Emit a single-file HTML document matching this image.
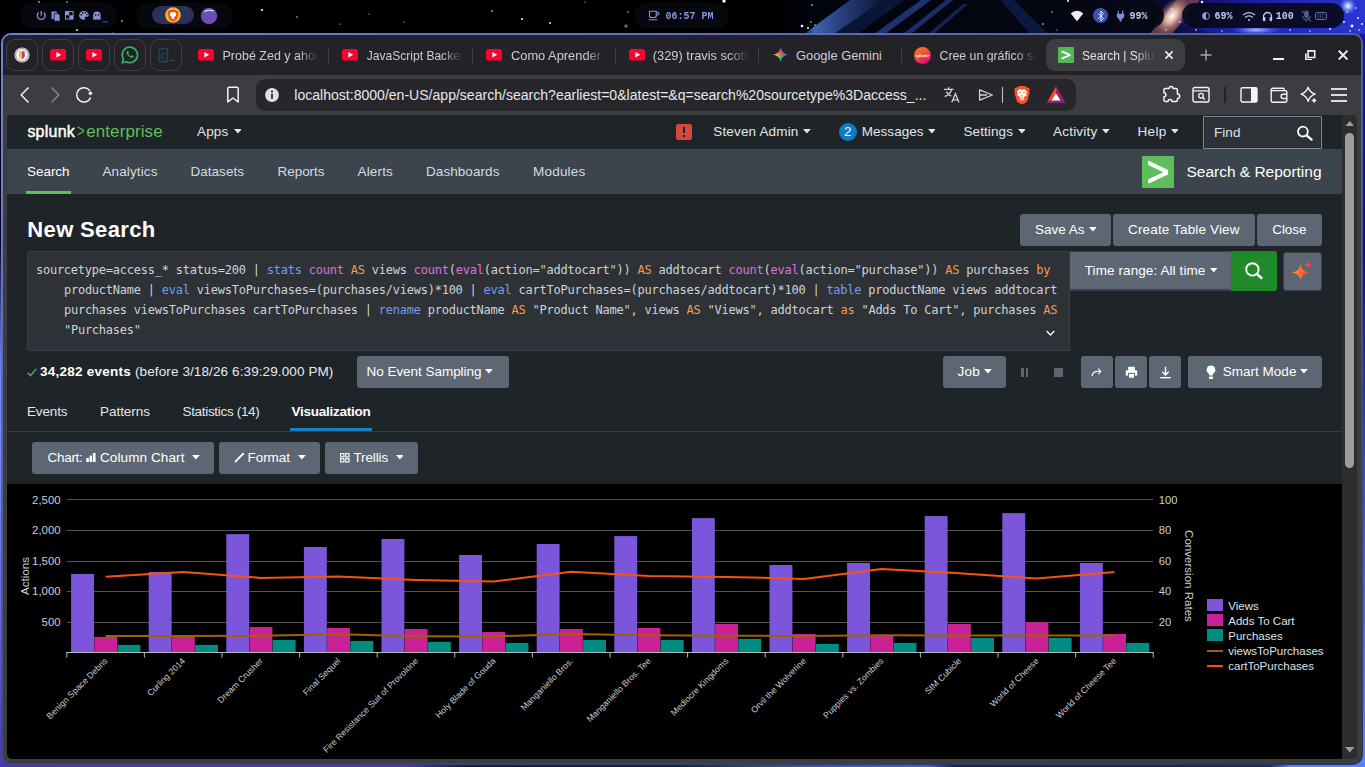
<!DOCTYPE html>
<html lang="en">
<head>
<meta charset="utf-8">
<title>Search | Splunk</title>
<style>
*{box-sizing:border-box;margin:0;padding:0}
html,body{width:1365px;height:767px;overflow:hidden;background:#000}
body{position:relative;font-family:"Liberation Sans",sans-serif;color:#fff}
.abs{position:absolute}
svg{display:block}
.t{position:absolute;white-space:pre;line-height:1}
/* ---------- desktop ---------- */
#desk{position:absolute;left:0;top:0;width:1365px;height:767px;overflow:hidden;
 background:
  linear-gradient(180deg,rgba(0,0,0,0) 0,rgba(0,0,0,0) 100%),
  #000}
.pill{position:absolute;top:3px;height:25px;border-radius:13px;background:#07070f}
.pill .t{font-family:"Liberation Mono",monospace;color:#8f9bd6;font-size:12px;font-weight:bold}
/* ---------- browser window ---------- */
#winb{position:absolute;left:1px;top:33px;width:1362px;height:732px;border-radius:10px;background:linear-gradient(90deg,rgba(8,12,40,0) 0,rgba(8,12,40,.32) 100%),linear-gradient(180deg,#6a84d8 0,#6880d4 23%,#5568a8 50%,#4a5890 77%,#3c4a78 100%)}
#win{position:absolute;left:3px;top:35px;width:1358px;height:728px;border-radius:8px;background:#3d3c41;overflow:hidden}
#tabbar{position:absolute;left:0;top:0;width:1358px;height:40px;background:#232227}
#toolbar{position:absolute;left:0;top:40px;width:1358px;height:40px;background:#3d3c41;border-radius:7px 7px 0 0}
.pin{position:absolute;top:4px;width:32px;height:32px;border:1px solid #3e3e44;border-radius:9px}
.tab{position:absolute;top:0;height:40px}
.tab .t{font-size:13px;color:#cdcdd2;top:15px}
.fade{overflow:hidden;-webkit-mask-image:linear-gradient(90deg,#000 78%,transparent 100%);mask-image:linear-gradient(90deg,#000 78%,transparent 100%)}
.fade2{overflow:hidden;-webkit-mask-image:linear-gradient(90deg,#000 70%,transparent 96%);mask-image:linear-gradient(90deg,#000 70%,transparent 96%)}
.tsep{position:absolute;top:13px;width:1px;height:15px;background:#414147}
#url{position:absolute;left:253px;top:44px;width:820px;height:32px;border-radius:9px;background:#27272b}
/* ---------- page ---------- */
#page{position:absolute;left:4px;top:80px;width:1350px;height:644px;background:#1f2428;border-radius:5px 5px 5px 5px;overflow:hidden}
</style>
</head>
<body>
<div id="desk">
<!--DESK-->
<svg class="abs" style="left:0;top:0" width="1365" height="767" viewBox="0 0 1365 767">
<defs>
<linearGradient id="dbg" x1="0" x2="1" y1="0" y2="0"><stop offset="0" stop-color="#000"/><stop offset=".56" stop-color="#000"/><stop offset=".6" stop-color="#02040f"/><stop offset=".76" stop-color="#03050f"/><stop offset=".84" stop-color="#07081f"/><stop offset=".875" stop-color="#101058"/><stop offset=".92" stop-color="#1a1ea4"/><stop offset="1" stop-color="#2a36d2"/></linearGradient>
<linearGradient id="band1" x1="0" x2="1" y1="0" y2="0"><stop offset="0" stop-color="#0a1430"/><stop offset=".12" stop-color="#4464b0"/><stop offset=".4" stop-color="#2a4688"/><stop offset="1" stop-color="#0a1430"/></linearGradient>
<linearGradient id="band2" x1="0" x2="1" y1="0" y2="0"><stop offset="0" stop-color="#14244f"/><stop offset=".5" stop-color="#233c7c"/><stop offset="1" stop-color="#060c20"/></linearGradient>
<radialGradient id="glow1" cx=".5" cy=".5" r=".5"><stop offset="0" stop-color="#fff"/><stop offset=".35" stop-color="#f3c9b4" stop-opacity=".85"/><stop offset="1" stop-color="#b06a60" stop-opacity="0"/></radialGradient>
<radialGradient id="glow2" cx=".5" cy=".5" r=".5"><stop offset="0" stop-color="#fff"/><stop offset=".3" stop-color="#9fc0ff" stop-opacity=".9"/><stop offset="1" stop-color="#3a5cff" stop-opacity="0"/></radialGradient>
<linearGradient id="botg" x1="0" x2="1" y1="0" y2="0"><stop offset="0" stop-color="#4b36b0"/><stop offset=".3" stop-color="#4a36ae"/><stop offset=".34" stop-color="#15204a"/><stop offset=".5" stop-color="#15224a"/><stop offset=".56" stop-color="#3a4a72"/><stop offset=".62" stop-color="#3a5ab8"/><stop offset=".68" stop-color="#4060c8"/><stop offset=".7" stop-color="#1a2448"/><stop offset=".93" stop-color="#1c2a55"/><stop offset=".945" stop-color="#5a82f4"/><stop offset="1" stop-color="#5a82f4"/></linearGradient>
<linearGradient id="leftg" x1="0" x2="0" y1="0" y2="1"><stop offset="0" stop-color="#000"/><stop offset=".28" stop-color="#04001a"/><stop offset=".45" stop-color="#6e82f0"/><stop offset=".55" stop-color="#7b90ff"/><stop offset=".8" stop-color="#6866e0"/><stop offset="1" stop-color="#4b36b0"/></linearGradient>
<linearGradient id="rightg" x1="0" x2="0" y1="0" y2="1"><stop offset="0" stop-color="#1a14a0"/><stop offset=".3" stop-color="#150e78"/><stop offset=".6" stop-color="#3450b8"/><stop offset="1" stop-color="#5a82f4"/></linearGradient>
</defs>
<rect width="1365" height="40" fill="url(#dbg)"/>
<rect x="0" y="40" width="1365" height="727" fill="url(#botg)"/>
<rect x="0" y="34" width="3" height="726" fill="url(#leftg)"/>
<rect x="1360" y="34" width="5" height="726" fill="url(#rightg)"/>
<!-- diagonal blue bands -->
<polygon points="804,34 834,34 884,0 850,0" fill="url(#band1)"/>
<polygon points="834,34 858,34 904,0 884,0" fill="#0d1a40" opacity=".8"/>
<polygon points="874,34 885,34 931,0 921,0" fill="#1d3370"/>
<polygon points="903,34 911,34 953,0 946,0" fill="#1a2e66"/>
<polygon points="928,34 934,34 968,4 963,4" fill="#14244f"/>
<polygon points="1000,0 1014,0 1048,34 1030,34" fill="#0b1840"/>
<!-- warm streak between pills -->
<polygon points="1150,34 1172,34 1200,0 1176,0" fill="#7c4a52" opacity=".75"/>
<ellipse cx="1172" cy="16" rx="13" ry="22" fill="url(#glow1)" transform="rotate(38 1172 16)"/>
<!-- blue-white glows on right -->
<ellipse cx="1256" cy="30" rx="26" ry="5" fill="url(#glow2)"/>
<ellipse cx="1348" cy="6" rx="9" ry="9" fill="url(#glow2)"/>
<ellipse cx="1270" cy="20" rx="90" ry="16" fill="#2a36d8" opacity=".35"/>
<!-- stars -->
<g fill="#fff">
<circle cx="39" cy="2" r=".8"/><circle cx="67" cy="2" r=".7"/><circle cx="77" cy="30" r=".9"/><circle cx="122" cy="21" r=".8"/><circle cx="113" cy="33" r=".6"/><circle cx="197" cy="27" r=".6"/>
<circle cx="262" cy="10" r="1.100"/><circle cx="297" cy="17" r=".7"/><circle cx="369" cy="14" r=".6"/><circle cx="340" cy="24" r=".6"/><circle cx="404" cy="22" r=".6"/><circle cx="492" cy="11" r=".8"/><circle cx="522" cy="19" r="1"/><circle cx="550" cy="23" r=".9"/><circle cx="585" cy="2" r=".6"/><circle cx="628" cy="12" r=".7"/><circle cx="626" cy="26" r="1.200" fill="none" stroke="#ddd" stroke-width=".6"/><circle cx="724" cy="1" r="1.700"/><circle cx="812" cy="5" r=".8"/><circle cx="802" cy="26" r="1.300"/><circle cx="808" cy="28" r="1"/><circle cx="811" cy="22" r=".7"/><circle cx="815" cy="25" r=".7"/>
<circle cx="1043" cy="24" r=".8"/><circle cx="1196" cy="30" r=".8"/><circle cx="1222" cy="31" r=".7"/><circle cx="1290" cy="30" r=".8"/><circle cx="1310" cy="31" r=".7"/><circle cx="1330" cy="29" r=".9"/><circle cx="1347" cy="12" r=".8"/><circle cx="1356" cy="8" r=".8"/><circle cx="1362" cy="24" r=".9"/><circle cx="1166" cy="30" r=".7"/><circle cx="1057" cy="30" r=".6"/><circle cx="1052" cy="12" r=".7"/><circle cx="1068" cy="1" r="1"/><circle cx="1172" cy="9" r=".7"/><circle cx="1180" cy="22" r=".8"/><circle cx="1202" cy="2" r="1.200"/><circle cx="1344" cy="22" r=".9"/><circle cx="1352" cy="26" r="1.400"/><circle cx="1358" cy="18" r="1"/><circle cx="1359" cy="30" r=".8"/><circle cx="1350" cy="31" r=".8"/>
</g>
</svg>
<!--/DESK-->
</div>

<!-- top status pills -->
<!--PILLS-->
<!-- pill 1 -->
<div class="pill" style="left:20px;width:97px">
<svg class="abs" style="left:0;top:0" width="97" height="25" viewBox="0 0 97 25" fill="none" stroke="#8793d6" stroke-width="1.300">
 <path d="M18.600 9.600a3.900 3.900 0 1 0 5.200 0M21.200 8v4.800"/>
 <path d="M31.500 8.500h4.500l1.500 1.500v6h-6z" fill="#8793d6" stroke="none"/><path d="M34 10.700h4.300l1.700 1.700v5.800h-6z" fill="#8793d6" stroke="#0a0a16" stroke-width=".8"/>
 <rect x="45.500" y="8.500" width="7.600" height="7.600" stroke-width="1"/><rect x="45.500" y="8.500" width="3.800" height="3.800" fill="#8793d6" stroke="none"/><rect x="49.300" y="12.300" width="3.800" height="3.800" fill="#8793d6" stroke="none"/>
 <path d="M63.800 8a4.700 4.400 0 1 0 0 8.800c1 0 1.400-.7 1.100-1.400-.4-1 .2-1.700 1.200-1.700h1.300c.8 0 1.300-.6 1.300-1.500 0-2.400-2.100-4.200-4.900-4.200z" fill="#8793d6" stroke="none"/><g fill="#0a0a16" stroke="none"><circle cx="61.300" cy="11.900" r=".8"/><circle cx="62.700" cy="9.900" r=".8"/><circle cx="65.200" cy="9.800" r=".8"/><circle cx="66.900" cy="11.500" r=".8"/></g>
 <path d="M73.200 17.200v-5a3.700 3.700 0 0 1 7.400 0v5l-1.300-1.100-1.200 1.100-1.200-1.100-1.200 1.100-1.200-1.100z" fill="#8793d6" stroke="none"/><g fill="#0a0a16" stroke="none"><circle cx="75.600" cy="11.900" r=".8"/><circle cx="78.400" cy="11.900" r=".8"/></g>
 <rect x="82.500" y="18.300" width="5.500" height="1.200" fill="#4a4e66" stroke="none"/>
</svg></div>
<!-- pill 2 -->
<div class="pill" style="left:136px;width:97px">
 <div class="abs" style="left:16px;top:3px;width:42px;height:18px;border-radius:9px;background:#2b3158"></div>
 <svg class="abs" style="left:29px;top:4px" width="16" height="16" viewBox="0 0 16 16"><circle cx="8" cy="8" r="7.800" fill="#f6b91d"/><path d="M11.400 3.900l-.9-1H5.500l-.9 1-.9-.2L2.600 4.900l.5 1.300-.3 1 1.400 4.500c.2.700.7 1.200 1.300 1.600L8 14.400l2.500-1.100c.6-.4 1.100-.9 1.300-1.600l1.400-4.500-.3-1 .5-1.300-1.100-1.200z" fill="#f0482a"/><path d="M8 5.200l1.800-.3 1.500 1.600-.5 1.200.4.900-2 1.500.4 1.100L8 12.200l-1.600-1 .4-1.100-2-1.500.4-.9-.5-1.200 1.500-1.600z" fill="#fff"/></svg>
 <svg class="abs" style="left:64px;top:4px" width="18" height="18" viewBox="0 0 18 18"><circle cx="9" cy="9" r="8.200" fill="#6d4eb6"/><path d="M4.500 4.300q4.500-2.400 9 -.4" stroke="#fff" stroke-width="1" fill="none" stroke-linecap="round"/></svg>
</div>
<!-- clock -->
<div class="pill" style="left:634px;width:95px">
 <svg class="abs" style="left:14px;top:7px" width="12" height="11" viewBox="0 0 12 11" fill="none" stroke="#8793d6" stroke-width="1.100"><path d="M1.500 1.200h6.800v4.300a2 2 0 0 1-2 2H3.500a2 2 0 0 1-2-2z"/><path d="M8.300 2.300h1.300a1.300 1.300 0 0 1 0 2.600H8.300M.8 9.800h8.400"/></svg>
 <span class="t" style="left:31.500px;top:9.2px;font-size:10px;color:#8b97da;transform:scaleY(1.17);transform-origin:0 7px">06:57 PM</span>
</div>
<!-- pill 4 -->
<div class="pill" style="left:1062px;width:102px;background:rgba(8,8,20,.93)">
 <svg class="abs" style="left:8px;top:7px" width="14" height="12" viewBox="0 0 14 12"><path d="M7 11.200L.8 3.600a8.400 8.400 0 0 1 12.400 0z" fill="#ececf2"/></svg>
 <div class="abs" style="left:30.500px;top:4.600px;width:15.600px;height:15.600px;border-radius:50%;background:#3853b4"></div>
 <svg class="abs" style="left:34.500px;top:6.500px" width="8" height="12" viewBox="0 0 8 12"><path d="M1.200 3.300l5.200 5.200L3.900 11V1l2.500 2.500-5.200 5.200" fill="none" stroke="#e8ebff" stroke-width="1"/></svg>
 <svg class="abs" style="left:54px;top:7px" width="9" height="12" viewBox="0 0 9 12"><path d="M2.300.8v3M6.700.8v3" stroke="#7f8cd8" stroke-width="1.300"/><path d="M.8 3.800h7.400v2.200a3.700 3.700 0 0 1-2.700 3.500v1.900h-2V9.500A3.700 3.700 0 0 1 .8 6z" fill="#7f8cd8"/></svg>
 <span class="t" style="left:67.500px;top:9.2px;font-size:10px;color:#c7cbef;transform:scaleY(1.17);transform-origin:0 7px">99%</span>
</div>
<!-- pill 5 -->
<div class="pill" style="left:1182px;width:162px;background:rgba(8,8,22,.9)">
 <svg class="abs" style="left:20px;top:9px" width="8" height="8" viewBox="0 0 8 8"><circle cx="4" cy="4" r="3.400" fill="none" stroke="#97a1e0" stroke-width=".9"/><path d="M4 .6a3.400 3.400 0 0 0 0 6.800z" fill="#97a1e0"/></svg>
 <span class="t" style="left:32.500px;top:9.2px;font-size:10px;color:#c7cbef;transform:scaleY(1.17);transform-origin:0 7px">69%</span>
 <svg class="abs" style="left:60px;top:8px" width="14" height="11" viewBox="0 0 14 11" fill="none" stroke="#c7cbef" stroke-width="1.200"><path d="M1 4.200a8.400 8.400 0 0 1 12 0M3.200 6.500a5.300 5.300 0 0 1 7.600 0"/><circle cx="7" cy="9" r="1" fill="#c7cbef" stroke="none"/></svg>
 <svg class="abs" style="left:80px;top:8px" width="11" height="11" viewBox="0 0 11 11" fill="none" stroke="#c7cbef" stroke-width="1.300"><path d="M1.500 9.500V5.500a4 4 0 0 1 8 0v4"/><path d="M1.500 6.500h1.600v3.300H1.500zM7.900 6.500h1.600v3.300H7.900z" fill="#c7cbef" stroke-width=".6"/></svg>
 <span class="t" style="left:93.800px;top:9.2px;font-size:10px;color:#c7cbef;transform:scaleY(1.17);transform-origin:0 7px">100</span>
 <svg class="abs" style="left:119px;top:7px" width="11" height="13" viewBox="0 0 11 13" fill="none" stroke="#565c8c" stroke-width="1.100"><rect x="3.800" y="1" width="3.400" height="6.500" rx="1.700" fill="#565c8c"/><path d="M1.800 6a3.700 3.700 0 0 0 7.400 0M5.500 9.800v2M1 1l9 10.500"/></svg>
 <svg class="abs" style="left:133px;top:8.500px" width="12" height="8" viewBox="0 0 12 8" fill="none" stroke="#6d74a8" stroke-width="1"><rect x=".6" y=".6" width="10.800" height="6.800" rx="1"/><path d="M2.500 2.800h7M2.500 5h7" stroke-dasharray="1.200 1"/></svg>
</div>
<!--/PILLS-->

<div id="winb"></div>
<div id="win">
 <div id="tabbar">
  <!-- pinned tabs -->
  <div class="pin" style="left:3px"><svg class="abs" style="left:7px;top:7px" width="16" height="16" viewBox="0 0 16 16"><circle cx="8" cy="8" r="7.6" fill="#e9e9ee"/><circle cx="8" cy="8" r="6.4" fill="none" stroke="#8a8a92" stroke-width=".9"/><circle cx="8" cy="8" r="5.2" fill="#fff"/><path d="M5.3 4.3h5.4v5.2c0 1.6-2.7 2.7-2.7 2.7s-2.7-1.1-2.7-2.7z" fill="#e23b2f"/><path d="M5.3 4.3H8v7.9s-2.7-1.1-2.7-2.7z" fill="#f2c230"/><rect x="8" y="6.6" width="2.4" height="2.6" fill="#2c6fd1"/></svg></div>
  <div class="pin" style="left:39px"><svg class="abs" style="left:7px;top:9px" width="16.400" height="11.600" viewBox="0 0 17 12"><rect width="17" height="12" rx="3.2" fill="#ff0033"/><path d="M6.6 3.2v5.6l5-2.8z" fill="#fff"/></svg></div>
  <div class="pin" style="left:75px"><svg class="abs" style="left:7px;top:9px" width="16.400" height="11.600" viewBox="0 0 17 12"><rect width="17" height="12" rx="3.2" fill="#ff0033"/><path d="M6.6 3.2v5.6l5-2.8z" fill="#fff"/></svg></div>
  <div class="pin" style="left:111px"><svg class="abs" style="left:6px;top:6px" width="18" height="18" viewBox="0 0 18 18"><path d="M9 1.2a7.7 7.7 0 0 0-6.6 11.7L1.3 16.8l4-1.05A7.7 7.7 0 1 0 9 1.2z" fill="none" stroke="#29b765" stroke-width="1.7" stroke-linejoin="round"/><path d="M6.5 5.2c-.3 0-.9.5-.9 1.6 0 1 .8 2.2 1.9 3.2 1.2 1.1 2.6 1.8 3.5 1.8.9 0 1.6-.7 1.7-1.2.1-.4 0-.6-.2-.7l-1.4-.7c-.2-.1-.4 0-.6.2l-.5.6c-.1.2-.3.2-.6.1-.6-.3-1.7-1.2-2.100-2 -.1-.2 0-.4.1-.5l.4-.5c.1-.2.1-.3 0-.5l-.6-1.300c-.1-.2-.3-.200-.7-.200z" fill="#29b765"/></svg></div>
  <div class="pin" style="left:147px"><svg class="abs" style="left:7px;top:7px" width="18" height="18" viewBox="0 0 18 18"><rect x="1" y="1.500" width="8.500" height="13" rx="1.300" fill="none" stroke="#1e4b62" stroke-width="1.300"/><text x="2.300" y="12" font-family="Liberation Mono, monospace" font-size="10" fill="#1e526a">c</text><rect x="11.500" y="12.800" width="4.500" height="1.400" fill="#1e526a"/></svg></div>
  <!-- regular tabs -->
  <div class="tab" style="left:195px;width:130px"><svg class="abs" style="left:0;top:14px" width="16.400" height="11.600" viewBox="0 0 17 12"><rect width="17" height="12" rx="3.200" fill="#ff0033"/><path d="M6.600 3.200v5.600l5-2.800z" fill="#fff"/></svg><span class="t fade" style="left:24.500px;font-size:12.500px;width:96px">Probé Zed y ahora</span></div>
  <div class="tsep" style="left:325px"></div>
  <div class="tab" style="left:338.800px;width:130px"><svg class="abs" style="left:0;top:14px" width="16.400" height="11.600" viewBox="0 0 17 12"><rect width="17" height="12" rx="3.200" fill="#ff0033"/><path d="M6.600 3.200v5.600l5-2.800z" fill="#fff"/></svg><span class="t fade" style="left:25px;font-size:12.050px;width:96px">JavaScript Backend</span></div>
  <div class="tsep" style="left:469px"></div>
  <div class="tab" style="left:483px;width:130px"><svg class="abs" style="left:0;top:14px" width="16.400" height="11.600" viewBox="0 0 17 12"><rect width="17" height="12" rx="3.200" fill="#ff0033"/><path d="M6.600 3.200v5.600l5-2.800z" fill="#fff"/></svg><span class="t fade" style="left:25px;font-size:12.850px;width:96px">Como Aprender P</span></div>
  <div class="tsep" style="left:612px"></div>
  <div class="tab" style="left:625.800px;width:130px"><svg class="abs" style="left:0;top:14px" width="16.400" height="11.600" viewBox="0 0 17 12"><rect width="17" height="12" rx="3.200" fill="#ff0033"/><path d="M6.600 3.200v5.600l5-2.800z" fill="#fff"/></svg><span class="t fade" style="left:24px;font-size:12.850px;width:96px">(329) travis scott -</span></div>
  <div class="tsep" style="left:755px"></div>
  <div class="tab" style="left:769px;width:130px"><svg class="abs" style="left:0.600px;top:12.200px" width="15.400" height="15.400" viewBox="0 0 18 18"><defs><radialGradient id="gR" cx=".5" cy="0" r=".62"><stop offset="0" stop-color="#f0434f"/><stop offset=".55" stop-color="#f0434f" stop-opacity=".85"/><stop offset="1" stop-color="#f0434f" stop-opacity="0"/></radialGradient><radialGradient id="gY" cx="0" cy=".5" r=".62"><stop offset="0" stop-color="#fbbc1e"/><stop offset=".55" stop-color="#fbbc1e" stop-opacity=".9"/><stop offset="1" stop-color="#fbbc1e" stop-opacity="0"/></radialGradient><radialGradient id="gG" cx=".5" cy="1" r=".62"><stop offset="0" stop-color="#12b75c"/><stop offset=".55" stop-color="#12b75c" stop-opacity=".85"/><stop offset="1" stop-color="#12b75c" stop-opacity="0"/></radialGradient></defs><path d="M9 .4c.6 4.900 3.700 8 8.600 8.600-4.900.6-8 3.700-8.600 8.600-.6-4.900-3.700-8-8.600-8.600 4.900-.6 8-3.700 8.600-8.600z" fill="#2f84ff"/><path d="M9 .4c.6 4.900 3.700 8 8.600 8.600-4.900.6-8 3.700-8.600 8.600-.6-4.900-3.700-8-8.600-8.600 4.900-.6 8-3.700 8.600-8.600z" fill="url(#gG)"/><path d="M9 .4c.6 4.900 3.700 8 8.600 8.600-4.900.6-8 3.700-8.600 8.600-.6-4.900-3.700-8-8.600-8.600 4.900-.6 8-3.700 8.600-8.600z" fill="url(#gY)"/><path d="M9 .4c.6 4.900 3.700 8 8.600 8.600-4.900.6-8 3.700-8.600 8.600-.6-4.900-3.700-8-8.600-8.600 4.900-.6 8-3.700 8.600-8.600z" fill="url(#gR)"/></svg><span class="t" style="left:24px;font-size:12.900px">Google Gemini</span></div>
  <div class="tsep" style="left:898px"></div>
  <div class="tab" style="left:911px;width:130px"><svg class="abs" style="left:0;top:12px" width="17" height="17" viewBox="0 0 17 17"><defs><linearGradient id="spl" x1=".25" y1="0" x2=".75" y2="1"><stop offset="0" stop-color="#f7761f"/><stop offset=".45" stop-color="#f0503a"/><stop offset="1" stop-color="#e3007f"/></linearGradient></defs><circle cx="8.500" cy="8.500" r="8.500" fill="url(#spl)"/><text x="8.500" y="10" font-size="3.600" font-weight="bold" fill="#fff" text-anchor="middle" font-family="Liberation Sans, sans-serif">splunk&gt;</text></svg><span class="t fade" style="left:25.500px;font-size:12.300px;width:96px">Cree un gráfico so</span></div>
  <!-- active tab -->
  <div class="abs" style="left:1043px;top:4px;width:139px;height:32px;border-radius:9px;background:#3d3c41"></div>
  <div class="abs" style="left:1055px;top:12px;width:16px;height:16px;background:#53b757;border-radius:1px"><svg class="abs" style="left:0;top:0" width="16" height="16" viewBox="0 0 16 16"><path d="M3.600 3.300l9 3.900v1.600l-9 3.900v-2.100l6.300-2.600-6.300-2.600z" fill="#fff"/></svg></div>
  <span class="t fade2" style="left:1079px;top:15px;font-size:12px;width:76px;color:#e2e2e6">Search | Splunk</span>
  <svg class="abs" style="left:1160px;top:14px" width="12" height="12" viewBox="0 0 12 12"><path d="M2.400 2.400l7.200 7.200M9.600 2.400l-7.200 7.200" stroke="#ececf0" stroke-width="1.700"/></svg>
  <svg class="abs" style="left:1196px;top:13px" width="14" height="14" viewBox="0 0 14 14"><path d="M7 1.500v11M1.500 7h11" stroke="#a6a6ac" stroke-width="1.400"/></svg>
  <!-- window controls -->
  <div class="abs" style="left:1270px;top:23px;width:11px;height:2px;background:#f4f4f6"></div>
  <svg class="abs" style="left:1302px;top:14.600px" width="10.600" height="10.600" viewBox="0 0 12 12"><path d="M3.500 1h7.500v7.500h-7.500z" fill="none" stroke="#f4f4f6" stroke-width="1.800"/><path d="M1 4v7h7" fill="none" stroke="#f4f4f6" stroke-width="1.800"/></svg>
  <svg class="abs" style="left:1335.300px;top:15px" width="10.200" height="10.200" viewBox="0 0 11 11"><path d="M.8.8l9.400 9.400M10.200.8l-9.400 9.400" stroke="#f4f4f6" stroke-width="2"/></svg>
 </div>
 <div id="toolbar">
  <svg class="abs" style="left:16px;top:11px" width="12" height="18" viewBox="0 0 12 18"><path d="M9.500 1.500L2.200 9l7.300 7.500" fill="none" stroke="#f4f4f6" stroke-width="1.500"/></svg>
  <svg class="abs" style="left:46px;top:11px" width="12" height="18" viewBox="0 0 12 18"><path d="M2.500 1.500L9.800 9l-7.300 7.500" fill="none" stroke="#85858c" stroke-width="1.500"/></svg>
  <svg class="abs" style="left:72px;top:11px" width="18" height="18" viewBox="0 0 18 18"><path d="M15.600 11.600A7.200 7.200 0 1 1 14.900 4.800" fill="none" stroke="#f4f4f6" stroke-width="1.500"/><circle cx="15.400" cy="7.200" r="1.800" fill="#f4f4f6"/></svg>
  <svg class="abs" style="left:223px;top:11px" width="14" height="18" viewBox="0 0 14 18"><path d="M1.800 2.800a1.500 1.500 0 0 1 1.500-1.500h7.400a1.500 1.500 0 0 1 1.500 1.500v13.200l-5.200-4-5.200 4z" fill="none" stroke="#f4f4f6" stroke-width="1.500" stroke-linejoin="round"/></svg>
  <!-- right icons -->
  <svg class="abs" style="left:1157px;top:9px" width="22" height="22" viewBox="1160 84 22 22"><path d="M1163.900 90Q1163.900 88.500 1165.400 88.500H1169.200a1.900 1.900 0 1 1 3.800 0H1175.900Q1177.400 88.500 1177.400 90V93.900a2.300 2.300 0 1 1 0 4.600V100.100Q1177.400 101.600 1175.900 101.600H1172a2 2 0 1 0-4 0H1165.400Q1163.900 101.600 1163.900 100.100V96.800a2 2 0 1 0 0-4Z" fill="none" stroke="#f4f4f6" stroke-width="1.500" stroke-linejoin="round"/></svg>
  <svg class="abs" style="left:1189px;top:11px" width="18" height="18" viewBox="0 0 18 18"><rect x="1" y="1.500" width="16" height="14.500" rx="1.800" fill="none" stroke="#f4f4f6" stroke-width="1.400"/><path d="M1 4.800h16" stroke="#f4f4f6" stroke-width="1.300"/><circle cx="9" cy="9.700" r="2.300" fill="none" stroke="#f4f4f6" stroke-width="1.300"/><path d="M10.700 11.400l2 2" stroke="#f4f4f6" stroke-width="1.400"/></svg>
  <div class="abs" style="left:1221px;top:12px;width:2px;height:16px;background:#232327"></div>
  <svg class="abs" style="left:1237px;top:11px" width="18" height="18" viewBox="0 0 18 18"><rect x="1" y="1.700" width="16" height="14.300" rx="1.500" fill="none" stroke="#f4f4f6" stroke-width="1.400"/><rect x="11" y="1.700" width="6" height="14.300" fill="#f4f4f6"/></svg>
  <svg class="abs" style="left:1267px;top:11px" width="18" height="18" viewBox="0 0 18 18"><path d="M1.200 3.800v10.600a1.800 1.800 0 0 0 1.800 1.800h12.200a1.600 1.600 0 0 0 1.600-1.600V6.200a1.600 1.600 0 0 0-1.600-1.600H1.200" fill="none" stroke="#f4f4f6" stroke-width="1.400" stroke-linejoin="round"/><path d="M1.200 4.200a2 2 0 0 1 2-2h9.600a1.600 1.600 0 0 1 1.600 1.600v.8" fill="none" stroke="#f4f4f6" stroke-width="1.400"/><path d="M16.800 8.300h-3.600a2.100 2.100 0 0 0 0 4.200h3.600" fill="none" stroke="#f4f4f6" stroke-width="1.400"/></svg>
  <svg class="abs" style="left:1296px;top:10px" width="20" height="20" viewBox="0 0 20 20"><path d="M9.1 2.20Q10.80 7.50 16.10 9.2Q10.80 10.90 9.1 16.20Q7.40 10.90 2.10 9.2Q7.40 7.50 9.1 2.20Z" fill="none" stroke="#f4f4f6" stroke-width="1.400" stroke-linejoin="round"/><path d="M15.1 12.50Q15.60 14.90 18.00 15.4Q15.60 15.90 15.1 18.30Q14.60 15.90 12.20 15.4Q14.60 14.90 15.1 12.50Z" fill="#f4f4f6" stroke="#3d3c41" stroke-width=".8" paint-order="stroke"/></svg>
  <div class="abs" style="left:1328px;top:13.300px;width:16px;height:2px;background:#dcdce0"></div>
  <div class="abs" style="left:1328px;top:19.200px;width:16px;height:2px;background:#dcdce0"></div>
  <div class="abs" style="left:1328px;top:25.400px;width:16px;height:2px;background:#dcdce0"></div>
 </div>
 <div id="url">
  <svg class="abs" style="left:8px;top:8px" width="16" height="16" viewBox="0 0 16 16"><circle cx="8" cy="8" r="6.900" fill="#e0e0e4"/><rect x="7.100" y="6.800" width="1.800" height="5" fill="#27272b"/><circle cx="8" cy="4.600" r="1.100" fill="#27272b"/></svg>
  <span class="t" style="left:38.300px;top:8.500px;font-size:14.050px;color:#e8e8ec">localhost:8000/en-US/app/search/search?earliest=0&amp;latest=&amp;q=search%20sourcetype%3Daccess_...</span>
  <svg class="abs" style="left:687px;top:7px" width="18" height="18" viewBox="0 0 18 18"><g fill="none" stroke="#d4d4d8" stroke-width="1.300"><path d="M1 3.300h9.500M5.700 1.300v2M8.700 3.300c-.8 3.200-3.300 5.800-7 7.300M3.300 5.600c1.100 2 2.700 3.500 5 4.600"/><path d="M8.800 16.500l3.600-8.700 3.600 8.700M10 13.800h4.800"/></g></svg>
  <svg class="abs" style="left:721px;top:8px" width="18" height="16" viewBox="0 0 18 16"><path d="M2.600 2.800v10.300L15.400 8z" fill="none" stroke="#d4d4d8" stroke-width="1.300" stroke-linejoin="round"/><path d="M2.600 8h7.400" stroke="#d4d4d8" stroke-width="1.300"/></svg>
  <div class="abs" style="left:746px;top:8px;width:1px;height:16px;background:#c4c4c8"></div>
  <svg class="abs" style="left:757px;top:6px" width="18" height="20" viewBox="0 0 18 20"><path d="M13.600 2.600l-1.500-1.700H5.900L4.400 2.600l-1.500-.4L1.200 4l.7 2-.5 1.600 2.200 7.800c.3 1 1 1.800 1.900 2.400L9 19.400l3.500-1.600c.9-.6 1.600-1.400 1.900-2.400l2.200-7.800L16.100 6l.7-2-1.700-1.800z" fill="#fb542b"/><path d="M9 4.700l2.700-.4 2.300 2.400-.8 1.800.6 1.400-3 2.300.6 1.700L9 15.400l-2.400-1.500.6-1.700-3-2.300.6-1.400L4 6.700l2.300-2.400z" fill="#fff"/><path d="M6.200 7.300l1.700.5M11.800 7.300l-1.700.5M9 9.400v2.400M7.600 12.900l1.400.9 1.400-.9" stroke="#fb542b" stroke-width=".9" fill="none"/></svg>
  <svg class="abs" style="left:790px;top:7px" width="20" height="18" viewBox="0 0 20 18"><path d="M10 .6L.8 16.800h18.400z" fill="#ff4724"/><path d="M10 .6l9.200 16.200H10z" fill="#9e1f63"/><path d="M.8 16.800h18.400l-2-2.400H2.800z" fill="#662d91"/><path d="M10 7.200l4.500 7.400h-9z" fill="#fff"/></svg>
 </div>
 <div id="page">
<!--PAGE-->
<div class="abs" style="left:0.00px;top:0.00px;width:1335.00px;height:34.00px;background:#1f2428;"></div>
<span class="t" style="left:20.40px;top:9px;font-size:16px;color:#ffffff;-webkit-text-stroke:0.45px #fff;letter-spacing:0.225px;">splunk</span>
<span class="t" style="left:69.90px;top:7px;font-size:18px;color:#5cc05c;transform:scaleX(0.74);transform-origin:0 0;">&gt;</span>
<span class="t" style="left:79.20px;top:8px;font-size:17px;color:#5cc05c;letter-spacing:0.099px;">enterprise</span>
<span class="t" style="left:190.00px;top:10px;font-size:13.5px;color:#e1e6eb;letter-spacing:0.180px;">Apps</span>
<svg class="abs" style="left:226.60px;top:14.00px" width="7.8" height="4.5" viewBox="0 0 7.8 4.5"><path d="M0 0h7.8l-3.9 4.5z" fill="#e1e6eb"/></svg>
<div class="abs" style="left:668.50px;top:9.00px;width:16.00px;height:16.00px;background:#d9483f;border-radius:2.5px"></div>
<div class="abs" style="left:675.60px;top:12.20px;width:2.00px;height:6.20px;background:#1f2428;"></div>
<div class="abs" style="left:675.60px;top:19.60px;width:2.00px;height:2.00px;background:#1f2428;"></div>
<span class="t" style="left:706.30px;top:10px;font-size:13.5px;color:#e1e6eb;letter-spacing:0.157px;">Steven Admin</span>
<svg class="abs" style="left:796.40px;top:14.00px" width="7.8" height="4.5" viewBox="0 0 7.8 4.5"><path d="M0 0h7.8l-3.9 4.5z" fill="#e1e6eb"/></svg>
<div class="abs" style="left:831.6px;top:7.799999999999997px;width:18.2px;height:18.2px;border-radius:50%;background:#0d7cc1"></div>
<span class="t" style="left:836.90px;top:10px;font-size:13.5px;color:#ffffff;">2</span>
<span class="t" style="left:854.80px;top:10px;font-size:13.5px;color:#e1e6eb;letter-spacing:0.021px;">Messages</span>
<svg class="abs" style="left:920.60px;top:14.00px" width="7.8" height="4.5" viewBox="0 0 7.8 4.5"><path d="M0 0h7.8l-3.9 4.5z" fill="#e1e6eb"/></svg>
<span class="t" style="left:956.50px;top:10px;font-size:13.5px;color:#e1e6eb;letter-spacing:0.090px;">Settings</span>
<svg class="abs" style="left:1010.60px;top:14.00px" width="7.8" height="4.5" viewBox="0 0 7.8 4.5"><path d="M0 0h7.8l-3.9 4.5z" fill="#e1e6eb"/></svg>
<span class="t" style="left:1046.00px;top:10px;font-size:13.5px;color:#e1e6eb;letter-spacing:0.217px;">Activity</span>
<svg class="abs" style="left:1095.10px;top:14.00px" width="7.8" height="4.5" viewBox="0 0 7.8 4.5"><path d="M0 0h7.8l-3.9 4.5z" fill="#e1e6eb"/></svg>
<span class="t" style="left:1130.50px;top:10px;font-size:13.5px;color:#e1e6eb;letter-spacing:0.309px;">Help</span>
<svg class="abs" style="left:1163.60px;top:14.00px" width="7.8" height="4.5" viewBox="0 0 7.8 4.5"><path d="M0 0h7.8l-3.9 4.5z" fill="#e1e6eb"/></svg>
<div class="abs" style="left:1195.50px;top:1.30px;width:119.50px;height:33.00px;background:#2e3236;border:1px solid #7f8c99;border-radius:1px;box-shadow:inset 0 0 0 1px #24292d"></div>
<span class="t" style="left:1207.00px;top:11px;font-size:13.5px;color:#dfe4e9;letter-spacing:0.059px;">Find</span>
<div class="abs" style="left:1289.00px;top:9.00px"><svg width="18" height="18" viewBox="0 0 18 18"><circle cx="6.900" cy="7.600" r="4.900" fill="none" stroke="#fff" stroke-width="1.800"/><path d="M10.600 11.300l5 4.300" stroke="#fff" stroke-width="2.300" stroke-linecap="round"/></svg></div>
<div class="abs" style="left:0.00px;top:34.00px;width:1335.00px;height:45.00px;background:#3c444d;"></div>
<span class="t" style="left:20.00px;top:50px;font-size:13.5px;color:#ffffff;letter-spacing:-0.047px;">Search</span>
<span class="t" style="left:95.50px;top:50px;font-size:13.5px;color:#d5dbe1;letter-spacing:0.108px;">Analytics</span>
<span class="t" style="left:183.50px;top:50px;font-size:13.5px;color:#d5dbe1;letter-spacing:0.027px;">Datasets</span>
<span class="t" style="left:270.50px;top:50px;font-size:13.5px;color:#d5dbe1;letter-spacing:-0.040px;">Reports</span>
<span class="t" style="left:350.50px;top:50px;font-size:13.5px;color:#d5dbe1;letter-spacing:0.164px;">Alerts</span>
<span class="t" style="left:419.00px;top:50px;font-size:13.5px;color:#d5dbe1;letter-spacing:0.070px;">Dashboards</span>
<span class="t" style="left:526.00px;top:50px;font-size:13.5px;color:#d5dbe1;letter-spacing:0.210px;">Modules</span>
<div class="abs" style="left:18.80px;top:75.50px;width:45.20px;height:3.50px;background:#5cc05c;"></div>
<div class="abs" style="left:1134.80px;top:40.80px;width:32.40px;height:32.20px;background:#5cbf5c;"></div>
<div class="abs" style="left:1134.80px;top:40.80px"><svg width="33" height="33" viewBox="0 0 33 33"><path d="M6.260 4.480L26.070 13.970V18.400L6.260 27.800V23.360L21.270 16.160L6.260 9.020Z" fill="#fff"/></svg></div>
<span class="t" style="left:1179.50px;top:49px;font-size:15.5px;color:#ffffff;letter-spacing:-0.016px;">Search &amp; Reporting</span>
<span class="t" style="left:20.30px;top:104px;font-size:22px;color:#ffffff;font-weight:bold;letter-spacing:0.357px;">New Search</span>
<div class="abs" style="left:1013.00px;top:99.00px;width:91.00px;height:32.00px;background:#5c6773;border-radius:3px"></div>
<span class="t" style="left:1028.00px;top:108px;font-size:13.5px;color:#fff;letter-spacing:-0.004px;">Save As</span>
<svg class="abs" style="left:1081.60px;top:112.10px" width="7.8" height="4.5" viewBox="0 0 7.8 4.5"><path d="M0 0h7.8l-3.9 4.5z" fill="#fff"/></svg>
<div class="abs" style="left:1106.30px;top:99.00px;width:141.70px;height:32.00px;background:#5c6773;border-radius:3px"></div>
<span class="t" style="left:1121.00px;top:108px;font-size:13.5px;color:#fff;letter-spacing:0.154px;">Create Table View</span>
<div class="abs" style="left:1250.30px;top:99.00px;width:64.70px;height:32.00px;background:#5c6773;border-radius:3px"></div>
<span class="t" style="left:1265.30px;top:108px;font-size:13.5px;color:#fff;letter-spacing:-0.103px;">Close</span>
<div class="abs" style="left:20.00px;top:136.00px;width:1043.00px;height:100.00px;background:#2e3236;border:1px solid #34404a;border-radius:3px 0 0 3px"></div>
<span class="t" style="left:28.90px;top:149px;font-size:12px;color:#cdd3d9;letter-spacing:-0.2296px;font-family:'DejaVu Sans Mono','Liberation Mono',monospace;"><span style="color:#cdd3d9">sourcetype=access_* status=200 | </span><span style="color:#6e9df2">stats</span><span style="color:#cdd3d9"> </span><span style="color:#d873dc">count</span><span style="color:#cdd3d9"> </span><span style="color:#f59a4a">AS</span><span style="color:#cdd3d9"> views </span><span style="color:#d873dc">count</span><span style="color:#cdd3d9">(</span><span style="color:#d873dc">eval</span><span style="color:#cdd3d9">(action="addtocart")) </span><span style="color:#f59a4a">AS</span><span style="color:#cdd3d9"> addtocart </span><span style="color:#d873dc">count</span><span style="color:#cdd3d9">(</span><span style="color:#d873dc">eval</span><span style="color:#cdd3d9">(action="purchase")) </span><span style="color:#f59a4a">AS</span><span style="color:#cdd3d9"> purchases </span><span style="color:#f59a4a">by</span></span>
<span class="t" style="left:56.90px;top:169px;font-size:12px;color:#cdd3d9;letter-spacing:-0.2296px;font-family:'DejaVu Sans Mono','Liberation Mono',monospace;"><span style="color:#cdd3d9">productName | </span><span style="color:#6e9df2">eval</span><span style="color:#cdd3d9"> viewsToPurchases=(purchases/views)*100 | </span><span style="color:#6e9df2">eval</span><span style="color:#cdd3d9"> cartToPurchases=(purchases/addtocart)*100 | </span><span style="color:#6e9df2">table</span><span style="color:#cdd3d9"> productName views addtocart</span></span>
<span class="t" style="left:56.90px;top:189px;font-size:12px;color:#cdd3d9;letter-spacing:-0.2296px;font-family:'DejaVu Sans Mono','Liberation Mono',monospace;"><span style="color:#cdd3d9">purchases viewsToPurchases cartToPurchases | </span><span style="color:#6e9df2">rename</span><span style="color:#cdd3d9"> productName </span><span style="color:#f59a4a">AS</span><span style="color:#cdd3d9"> "Product Name", views </span><span style="color:#f59a4a">AS</span><span style="color:#cdd3d9"> "Views", addtocart </span><span style="color:#f59a4a">as</span><span style="color:#cdd3d9"> "Adds To Cart", purchases </span><span style="color:#f59a4a">AS</span></span>
<span class="t" style="left:56.90px;top:209px;font-size:12px;color:#cdd3d9;letter-spacing:-0.2296px;font-family:'DejaVu Sans Mono','Liberation Mono',monospace;"><span style="color:#cdd3d9">"Purchases"</span></span>
<div class="abs" style="left:1038.50px;top:214.50px"><svg width="9" height="7" viewBox="0 0 9 7"><path d="M.7 1l3.800 4 3.800-4" fill="none" stroke="#fff" stroke-width="1.300"/></svg></div>
<div class="abs" style="left:1063.00px;top:136.00px;width:161.30px;height:40.00px;background:#36424c;"></div>
<div class="abs" style="left:1063.00px;top:137.00px;width:161.30px;height:37.00px;background:#5c6773;"></div>
<span class="t" style="left:1077.70px;top:149px;font-size:13.5px;color:#fff;letter-spacing:0.100px;">Time range: All time</span>
<svg class="abs" style="left:1202.60px;top:153.10px" width="7.5" height="4.4" viewBox="0 0 7.5 4.4"><path d="M0 0h7.5l-3.75 4.4z" fill="#fff"/></svg>
<div class="abs" style="left:1224.00px;top:136.00px;width:46.00px;height:40.00px;background:#208a2a;border-radius:0 3px 3px 0"></div>
<div class="abs" style="left:1236.00px;top:145.00px"><svg width="22" height="22" viewBox="0 0 22 22"><circle cx="9.400" cy="9.400" r="6.200" fill="none" stroke="#fff" stroke-width="1.900"/><path d="M14 14l4.400 4" stroke="#fff" stroke-width="2.400" stroke-linecap="round"/></svg></div>
<div class="abs" style="left:1275.50px;top:136.50px;width:39.20px;height:39.00px;background:#5c6773;border-radius:3px;border:1px solid #3a444e"></div>
<div class="abs" style="left:1283.00px;top:145.00px"><svg width="24" height="24" viewBox="0 0 24 24"><defs><linearGradient id="aig" x1="0" y1=".5" x2="1" y2=".5"><stop offset="0" stop-color="#fb9d20"/><stop offset=".5" stop-color="#fb6a30"/><stop offset="1" stop-color="#fb3f52"/></linearGradient></defs><path d="M10.5 4.00Q11.45 11.45 18.90 12.4Q11.45 13.35 10.5 20.80Q9.55 13.35 2.10 12.4Q9.55 11.45 10.5 4.00Z" fill="url(#aig)"/><path d="M18 1.10Q18.55 4.35 21.80 4.9Q18.55 5.45 18 8.70Q17.45 5.45 14.20 4.9Q17.45 4.35 18 1.10Z" fill="#fa3a5a"/></svg></div>
<div class="abs" style="left:19.50px;top:252.60px"><svg width="10" height="9" viewBox="0 0 10 9"><path d="M.8 4.800l2.700 2.900L9.200 .9" fill="none" stroke="#53b757" stroke-width="1.300"/></svg></div>
<span class="t" style="left:33.00px;top:250px;font-size:13.5px;color:#ffffff;font-weight:bold;letter-spacing:0.244px;">34,282 events</span>
<span class="t" style="left:128.00px;top:250px;font-size:13.5px;color:#e6eaee;letter-spacing:0.108px;">(before 3/18/26 6:39:29.000 PM)</span>
<div class="abs" style="left:349.50px;top:241.00px;width:152.00px;height:32.00px;background:#5c6773;border-radius:3px"></div>
<span class="t" style="left:359.50px;top:250px;font-size:13.5px;color:#fff;letter-spacing:-0.033px;">No Event Sampling</span>
<svg class="abs" style="left:478.10px;top:254.00px" width="7.8" height="4.5" viewBox="0 0 7.8 4.5"><path d="M0 0h7.8l-3.9 4.5z" fill="#fff"/></svg>
<div class="abs" style="left:936.00px;top:241.00px;width:63.00px;height:32.00px;background:#5c6773;border-radius:3px"></div>
<span class="t" style="left:950.60px;top:250px;font-size:13.5px;color:#fff;letter-spacing:0.240px;">Job</span>
<svg class="abs" style="left:977.40px;top:254.00px" width="7.8" height="4.5" viewBox="0 0 7.8 4.5"><path d="M0 0h7.8l-3.9 4.5z" fill="#fff"/></svg>
<div class="abs" style="left:1014.20px;top:253.30px;width:2.40px;height:8.40px;background:#5c6773;"></div>
<div class="abs" style="left:1018.60px;top:253.30px;width:2.40px;height:8.40px;background:#5c6773;"></div>
<div class="abs" style="left:1047.30px;top:253.20px;width:8.60px;height:8.40px;background:#5c6773;"></div>
<div class="abs" style="left:1074.00px;top:241.00px;width:31.70px;height:32.00px;background:#5c6773;border-radius:3px"></div>
<div class="abs" style="left:1084.30px;top:251.80px"><svg width="11" height="10.200" viewBox="0 0 13 12"><path d="M1.200 10.800c.3-3.600 2.600-5.600 6.800-5.600h3.300" fill="none" stroke="#fff" stroke-width="1.300"/><path d="M8.600 2l3 3.200-3 3.200" fill="none" stroke="#fff" stroke-width="1.300"/></svg></div>
<div class="abs" style="left:1108.30px;top:241.00px;width:31.60px;height:32.00px;background:#5c6773;border-radius:3px"></div>
<div class="abs" style="left:1117.50px;top:250.50px"><svg width="13" height="13" viewBox="0 0 13 13"><rect x="3.200" y=".8" width="6.600" height="4" fill="#fff"/><rect x=".8" y="4.200" width="11.400" height="5.600" rx="1" fill="#fff"/><rect x="3.400" y="7.400" width="6.200" height="4.800" fill="#fff" stroke="#5c6773" stroke-width="1"/></svg></div>
<div class="abs" style="left:1142.30px;top:241.00px;width:31.60px;height:32.00px;background:#5c6773;border-radius:3px"></div>
<div class="abs" style="left:1152.00px;top:250.50px"><svg width="13" height="13" viewBox="0 0 13 13"><path d="M6.500 .8v8M3.300 5.800l3.200 3.200 3.200-3.200" fill="none" stroke="#fff" stroke-width="1.400"/><path d="M1.300 11.700h10.400" stroke="#fff" stroke-width="1.400"/></svg></div>
<div class="abs" style="left:1181.30px;top:241.00px;width:133.70px;height:32.00px;background:#5c6773;border-radius:3px"></div>
<div class="abs" style="left:1199.00px;top:250.00px"><svg width="10" height="15" viewBox="0 0 10 15"><path d="M5 .6a4.300 4.300 0 0 0-2.400 7.900c.5.400.7.900.7 1.500v.6h3.400v-.6c0-.6.200-1.100.7-1.500A4.300 4.300 0 0 0 5 .6z" fill="#fff"/><rect x="2.900" y="11.600" width="4.200" height="2.400" rx=".9" fill="#fff"/></svg></div>
<span class="t" style="left:1215.80px;top:250px;font-size:13.5px;color:#fff;letter-spacing:0.007px;">Smart Mode</span>
<svg class="abs" style="left:1292.90px;top:254.00px" width="7.8" height="4.5" viewBox="0 0 7.8 4.5"><path d="M0 0h7.8l-3.9 4.5z" fill="#fff"/></svg>
<span class="t" style="left:20.00px;top:290px;font-size:13.5px;color:#e1e6eb;letter-spacing:-0.130px;">Events</span>
<span class="t" style="left:93.00px;top:290px;font-size:13.5px;color:#e1e6eb;letter-spacing:-0.035px;">Patterns</span>
<span class="t" style="left:175.50px;top:290px;font-size:13.5px;color:#e1e6eb;letter-spacing:-0.319px;">Statistics (14)</span>
<span class="t" style="left:284.50px;top:290px;font-size:13.5px;color:#ffffff;font-weight:bold;letter-spacing:-0.252px;">Visualization</span>
<div class="abs" style="left:282.50px;top:312.70px;width:82.00px;height:3.50px;background:#1182c4;"></div>
<div class="abs" style="left:0.00px;top:316.20px;width:1335.00px;height:1.00px;background:#343b42;"></div>
<div class="abs" style="left:25.00px;top:327.00px;width:181.50px;height:31.70px;background:#5c6773;border-radius:3px"></div>
<span class="t" style="left:40.50px;top:336px;font-size:13.5px;color:#fff;letter-spacing:-0.294px;">Chart:</span>
<div class="abs" style="left:79.30px;top:337.80px"><svg width="10" height="9" viewBox="0 0 10 9"><rect x=".3" y="5" width="2.500" height="4" fill="#fff"/><rect x="3.600" y="2.600" width="2.500" height="6.400" fill="#fff"/><rect x="6.900" y="0" width="2.700" height="9" fill="#fff"/></svg></div>
<span class="t" style="left:93.00px;top:336px;font-size:13.5px;color:#fff;letter-spacing:0.102px;">Column Chart</span>
<svg class="abs" style="left:185.10px;top:340.00px" width="7.8" height="4.5" viewBox="0 0 7.8 4.5"><path d="M0 0h7.8l-3.9 4.5z" fill="#fff"/></svg>
<div class="abs" style="left:212.00px;top:327.00px;width:100.50px;height:31.70px;background:#5c6773;border-radius:3px"></div>
<div class="abs" style="left:226.50px;top:338.00px"><svg width="10" height="10" viewBox="0 0 10 10"><path d="M9.400 .6L4 6" stroke="#fff" stroke-width="1.900" stroke-linecap="round"/><path d="M.6 9.400c.2-1.800.9-2.900 2.300-3.200l1 1C3.500 8.500 2.400 9.200.6 9.400z" fill="#fff"/></svg></div>
<span class="t" style="left:240.50px;top:336px;font-size:13.5px;color:#fff;letter-spacing:-0.044px;">Format</span>
<svg class="abs" style="left:291.10px;top:340.00px" width="7.8" height="4.5" viewBox="0 0 7.8 4.5"><path d="M0 0h7.8l-3.9 4.5z" fill="#fff"/></svg>
<div class="abs" style="left:318.00px;top:327.00px;width:92.50px;height:31.70px;background:#5c6773;border-radius:3px"></div>
<div class="abs" style="left:333.00px;top:338.00px"><svg width="10" height="10" viewBox="0 0 10 10"><g fill="none" stroke="#fff" stroke-width="1.100"><rect x=".6" y=".6" width="3.300" height="3.300"/><rect x="5.700" y=".6" width="3.300" height="3.300"/><rect x=".6" y="5.700" width="3.300" height="3.300"/><rect x="5.700" y="5.700" width="3.300" height="3.300"/></g></svg></div>
<span class="t" style="left:346.50px;top:336px;font-size:13.5px;color:#fff;letter-spacing:-0.143px;">Trellis</span>
<svg class="abs" style="left:388.60px;top:340.00px" width="7.8" height="4.5" viewBox="0 0 7.8 4.5"><path d="M0 0h7.8l-3.9 4.5z" fill="#fff"/></svg>
<div class="abs" style="left:1335.00px;top:0.00px;width:15.00px;height:644.00px;background:#2d2d2d;"></div>
<svg class="abs" style="left:1337.7px;top:5.599999999999994px" width="9.600" height="5.600" viewBox="0 0 9.600 5.600"><path d="M0 5.600h9.600L4.800 0z" fill="#9d9d9d"/></svg>
<div class="abs" style="left:1338.00px;top:18.00px;width:9.00px;height:335.00px;background:#9d9d9d;border-radius:4.500px"></div>
<svg class="abs" style="left:1337.7px;top:632.2px" width="9.600" height="5.600" viewBox="0 0 9.600 5.600"><path d="M0 0h9.600L4.800 5.600z" fill="#9d9d9d"/></svg>
<!--/PAGE-->
<!--CHART-->
<svg class="abs" style="left:0;top:369px" width="1335" height="275" viewBox="7 484 1335 275" font-family="Liberation Sans, sans-serif">
<rect x="7" y="484" width="1335" height="275" fill="#000"/>
<rect x="66.8" y="499" width="1086.4" height="1" fill="#545454"/>
<rect x="66.8" y="530" width="1086.4" height="1" fill="#545454"/>
<rect x="66.8" y="561" width="1086.4" height="1" fill="#545454"/>
<rect x="66.8" y="591" width="1086.4" height="1" fill="#545454"/>
<rect x="66.8" y="622" width="1086.4" height="1" fill="#545454"/>
<text x="60.6" y="504.1" font-size="11.4" fill="#c9ced4" text-anchor="end">2,500</text>
<text x="60.6" y="534.0" font-size="11.4" fill="#c9ced4" text-anchor="end">2,000</text>
<text x="60.6" y="565.0" font-size="11.4" fill="#c9ced4" text-anchor="end">1,500</text>
<text x="60.6" y="595.0" font-size="11.4" fill="#c9ced4" text-anchor="end">1,000</text>
<text x="60.6" y="626.0" font-size="11.4" fill="#c9ced4" text-anchor="end">500</text>
<text x="1158.8" y="503.9" font-size="11.2" fill="#c9ced4">100</text>
<text x="1158.8" y="533.9" font-size="11.2" fill="#c9ced4">80</text>
<text x="1158.8" y="564.9" font-size="11.2" fill="#c9ced4">60</text>
<text x="1158.8" y="594.9" font-size="11.2" fill="#c9ced4">40</text>
<text x="1158.8" y="625.9" font-size="11.2" fill="#c9ced4">20</text>
<text transform="translate(29.4,576) rotate(-90)" font-size="11.6" fill="#c9ced4" text-anchor="middle">Actions</text>
<text transform="translate(1184.6,576) rotate(90)" font-size="11.55" fill="#c9ced4" text-anchor="middle">Conversion Rates</text>
<rect x="71.1" y="573.9" width="22.9" height="78.1" fill="#7b56db"/>
<rect x="94.3" y="636.9" width="22.9" height="15.1" fill="#cb2196"/>
<rect x="117.5" y="644.9" width="22.9" height="7.1" fill="#008c80"/>
<rect x="148.7" y="571.9" width="22.9" height="80.1" fill="#7b56db"/>
<rect x="171.9" y="636.4" width="22.9" height="15.6" fill="#cb2196"/>
<rect x="195.1" y="644.9" width="22.9" height="7.1" fill="#008c80"/>
<rect x="226.3" y="534.1" width="22.9" height="117.9" fill="#7b56db"/>
<rect x="249.5" y="627.0" width="22.9" height="25.0" fill="#cb2196"/>
<rect x="272.7" y="639.9" width="22.9" height="12.1" fill="#008c80"/>
<rect x="303.9" y="547.0" width="22.9" height="105.0" fill="#7b56db"/>
<rect x="327.1" y="628.0" width="22.9" height="24.0" fill="#cb2196"/>
<rect x="350.3" y="640.9" width="22.9" height="11.1" fill="#008c80"/>
<rect x="381.5" y="539.0" width="22.9" height="113.0" fill="#7b56db"/>
<rect x="404.7" y="629.0" width="22.9" height="23.0" fill="#cb2196"/>
<rect x="427.9" y="641.9" width="22.9" height="10.1" fill="#008c80"/>
<rect x="459.1" y="555.0" width="22.9" height="97.0" fill="#7b56db"/>
<rect x="482.3" y="632.0" width="22.9" height="20.0" fill="#cb2196"/>
<rect x="505.5" y="642.9" width="22.9" height="9.1" fill="#008c80"/>
<rect x="536.7" y="544.0" width="22.9" height="108.0" fill="#7b56db"/>
<rect x="559.9" y="629.0" width="22.9" height="23.0" fill="#cb2196"/>
<rect x="583.1" y="639.9" width="22.9" height="12.1" fill="#008c80"/>
<rect x="614.3" y="536.1" width="22.9" height="115.9" fill="#7b56db"/>
<rect x="637.5" y="628.0" width="22.9" height="24.0" fill="#cb2196"/>
<rect x="660.7" y="639.9" width="22.9" height="12.1" fill="#008c80"/>
<rect x="691.9" y="518.1" width="22.9" height="133.9" fill="#7b56db"/>
<rect x="715.1" y="624.0" width="22.9" height="28.0" fill="#cb2196"/>
<rect x="738.3" y="638.9" width="22.9" height="13.1" fill="#008c80"/>
<rect x="769.5" y="565.0" width="22.9" height="87.0" fill="#7b56db"/>
<rect x="792.7" y="634.0" width="22.9" height="18.0" fill="#cb2196"/>
<rect x="815.9" y="643.9" width="22.9" height="8.1" fill="#008c80"/>
<rect x="847.1" y="563.0" width="22.9" height="89.0" fill="#7b56db"/>
<rect x="870.3" y="635.0" width="22.9" height="17.0" fill="#cb2196"/>
<rect x="893.5" y="642.9" width="22.9" height="9.1" fill="#008c80"/>
<rect x="924.7" y="516.1" width="22.9" height="135.9" fill="#7b56db"/>
<rect x="947.9" y="624.0" width="22.9" height="28.0" fill="#cb2196"/>
<rect x="971.1" y="637.9" width="22.9" height="14.1" fill="#008c80"/>
<rect x="1002.3" y="513.1" width="22.9" height="138.9" fill="#7b56db"/>
<rect x="1025.5" y="622.2" width="22.9" height="29.8" fill="#cb2196"/>
<rect x="1048.7" y="637.9" width="22.9" height="14.1" fill="#008c80"/>
<rect x="1079.9" y="563.0" width="22.9" height="89.0" fill="#7b56db"/>
<rect x="1103.1" y="634.0" width="22.9" height="18.0" fill="#cb2196"/>
<rect x="1126.3" y="642.9" width="22.9" height="9.1" fill="#008c80"/>
<rect x="66.3" y="652" width="1087.4" height="1" fill="#b4b9bf"/>
<rect x="66.3" y="652" width="1" height="5.600" fill="#b4b9bf"/>
<rect x="143.9" y="652" width="1" height="5.600" fill="#b4b9bf"/>
<rect x="221.5" y="652" width="1" height="5.600" fill="#b4b9bf"/>
<rect x="299.1" y="652" width="1" height="5.600" fill="#b4b9bf"/>
<rect x="376.7" y="652" width="1" height="5.600" fill="#b4b9bf"/>
<rect x="454.3" y="652" width="1" height="5.600" fill="#b4b9bf"/>
<rect x="531.9" y="652" width="1" height="5.600" fill="#b4b9bf"/>
<rect x="609.5" y="652" width="1" height="5.600" fill="#b4b9bf"/>
<rect x="687.1" y="652" width="1" height="5.600" fill="#b4b9bf"/>
<rect x="764.7" y="652" width="1" height="5.600" fill="#b4b9bf"/>
<rect x="842.3" y="652" width="1" height="5.600" fill="#b4b9bf"/>
<rect x="919.9" y="652" width="1" height="5.600" fill="#b4b9bf"/>
<rect x="997.5" y="652" width="1" height="5.600" fill="#b4b9bf"/>
<rect x="1075.1" y="652" width="1" height="5.600" fill="#b4b9bf"/>
<rect x="1152.7" y="652" width="1" height="5.600" fill="#b4b9bf"/>
<polyline points="105.6,635.9 183.2,636.0 260.8,635.7 338.4,634.3 416.0,636.2 493.6,636.4 571.2,633.9 648.8,635.2 726.4,635.7 804.0,635.9 881.6,635.2 959.2,635.4 1036.8,635.4 1114.4,635.4" fill="none" stroke="#9d6300" stroke-width="2" stroke-linejoin="round"/>
<polyline points="105.6,576.7 183.2,571.9 260.8,577.9 338.4,576.5 416.0,579.9 493.6,581.6 571.2,571.7 648.8,575.9 726.4,576.9 804.0,578.9 881.6,568.9 959.2,573.2 1036.8,578.6 1114.4,571.9" fill="none" stroke="#f6540b" stroke-width="2" stroke-linejoin="round"/>
<text transform="translate(108.2,661.5) rotate(-45)" font-size="8.750" fill="#c9ced4" text-anchor="end">Benign Space Debris</text>
<text transform="translate(185.8,661.5) rotate(-45)" font-size="8.750" fill="#c9ced4" text-anchor="end">Curling 2014</text>
<text transform="translate(263.4,661.5) rotate(-45)" font-size="8.750" fill="#c9ced4" text-anchor="end">Dream Crusher</text>
<text transform="translate(341.0,661.5) rotate(-45)" font-size="8.750" fill="#c9ced4" text-anchor="end">Final Sequel</text>
<text transform="translate(418.6,661.5) rotate(-45)" font-size="8.750" fill="#c9ced4" text-anchor="end">Fire Resistance Suit of Provolone</text>
<text transform="translate(496.2,661.5) rotate(-45)" font-size="8.750" fill="#c9ced4" text-anchor="end">Holy Blade of Gouda</text>
<text transform="translate(573.8,661.5) rotate(-45)" font-size="8.750" fill="#c9ced4" text-anchor="end">Manganiello Bros.</text>
<text transform="translate(651.4,661.5) rotate(-45)" font-size="8.750" fill="#c9ced4" text-anchor="end">Manganiello Bros. Tee</text>
<text transform="translate(729.0,661.5) rotate(-45)" font-size="8.750" fill="#c9ced4" text-anchor="end">Mediocre Kingdoms</text>
<text transform="translate(806.6,661.5) rotate(-45)" font-size="8.750" fill="#c9ced4" text-anchor="end">Orvil the Wolverine</text>
<text transform="translate(884.2,661.5) rotate(-45)" font-size="8.750" fill="#c9ced4" text-anchor="end">Puppies vs. Zombies</text>
<text transform="translate(961.8,661.5) rotate(-45)" font-size="8.750" fill="#c9ced4" text-anchor="end">SIM Cubicle</text>
<text transform="translate(1039.4,661.5) rotate(-45)" font-size="8.750" fill="#c9ced4" text-anchor="end">World of Cheese</text>
<text transform="translate(1117.0,661.5) rotate(-45)" font-size="8.750" fill="#c9ced4" text-anchor="end">World of Cheese Tee</text>
<rect x="1207" y="599" width="16" height="12" fill="#7b56db"/>
<text x="1228.3" y="609.7" font-size="11.500" fill="#dde2e7">Views</text>
<rect x="1207" y="614" width="16" height="12" fill="#cb2196"/>
<text x="1228.3" y="624.7" font-size="11.500" fill="#dde2e7">Adds To Cart</text>
<rect x="1207" y="629" width="16" height="12" fill="#008c80"/>
<text x="1228.3" y="639.7" font-size="11.500" fill="#dde2e7">Purchases</text>
<rect x="1207" y="650" width="16" height="2" fill="#9d6300"/>
<text x="1228.3" y="654.7" font-size="11.500" fill="#dde2e7">viewsToPurchases</text>
<rect x="1207" y="665" width="16" height="2" fill="#f6540b"/>
<text x="1228.3" y="669.7" font-size="11.500" fill="#dde2e7">cartToPurchases</text>
</svg>
<!--/CHART-->
 </div>
</div>
</body>
</html>
